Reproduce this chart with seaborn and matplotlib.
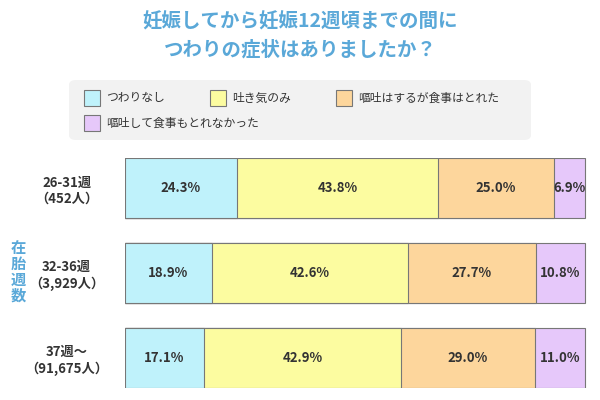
import numpy as np
import pandas as pd
import matplotlib.pyplot as plt
import seaborn as sns
from matplotlib.patches import FancyBboxPatch, Rectangle

plt.rcParams['font.family'] = 'Noto Sans CJK JP'

groups = ['26-31週\n（452人）', '32-36週\n（3,929人）', '37週〜\n（91,675人）']
categories = ['つわりなし', '吐き気のみ', '嘔吐はするが食事はとれた', '嘔吐して食事もとれなかった']
none_vals = [24.3, 18.9, 17.1]
nausea_vals = [43.8, 42.6, 42.9]
vomit_ok_vals = [25.0, 27.7, 29.0]
vomit_ng_vals = [6.9, 10.8, 11.0]
colors = ['#bff2fb', '#fcfca0', '#fdd69c', '#e6c8fa']
title_color = '#5aa8d8'

series = [none_vals, nausea_vals, vomit_ok_vals, vomit_ng_vals]
cum = np.minimum(np.cumsum(np.array(series), axis=0), 100)

fig = plt.figure(figsize=(6, 4), dpi=100)
ax = fig.add_axes([0.208, 0.03, 0.77, 0.575])

# draw cumulative layers, largest first so smaller ones sit on top
for i in range(len(series) - 1, -1, -1):
    df = pd.DataFrame({'group': groups, 'value': cum[i]})
    sns.barplot(data=df, x='value', y='group', orient='h', color=colors[i],
                edgecolor='#777777', linewidth=0.8, width=0.706, saturation=1, ax=ax)

for i, vals in enumerate(series):
    starts = cum[i] - np.array(vals)
    for j, v in enumerate(vals):
        ax.text(starts[j] + v / 2, j, f'{v:.1f}%', ha='center', va='center',
                fontsize=9.5, fontweight='bold', color='#333333')

ax.set_xlim(0, 100.3)
ax.set_ylim(2.353, -0.353)
ax.set_xlabel('')
ax.set_ylabel('')
ax.set_xticks([])
ax.tick_params(axis='y', length=0, labelsize=9.5, pad=12)
for lab in ax.get_yticklabels():
    lab.set_fontweight('bold')
    lab.set_color('#333333')
    lab.set_ha('center')
    lab.set_x(-0.09)
for s in ax.spines.values():
    s.set_visible(False)

fig.text(0.5, 0.945, '妊娠してから妊娠12週頃までの間に', ha='center', va='center',
         fontsize=14, fontweight='bold', color=title_color)
fig.text(0.5, 0.875, 'つわりの症状はありましたか？', ha='center', va='center',
         fontsize=14, fontweight='bold', color=title_color)
fig.text(0.03, 0.32, '在\n胎\n週\n数', ha='center', va='center', fontsize=11,
         fontweight='bold', color=title_color, linespacing=1.0)

# legend box
fig.patches.append(FancyBboxPatch((0.115, 0.65), 0.77, 0.15,
                                  boxstyle='round,pad=0,rounding_size=0.012',
                                  transform=fig.transFigure, facecolor='#f2f2f2',
                                  edgecolor='none'))
leg_pos = [(0.14, 0.755), (0.35, 0.755), (0.56, 0.755), (0.14, 0.693)]
for (x, y), c, lab in zip(leg_pos, colors, categories):
    fig.patches.append(Rectangle((x, y - 0.02), 0.027, 0.04, transform=fig.transFigure,
                                 facecolor=c, edgecolor='#777777', linewidth=0.8))
    fig.text(x + 0.037, y, lab, va='center', fontsize=8.5, color='#333333')

fig.savefig('out.png', dpi=100, facecolor='white')
